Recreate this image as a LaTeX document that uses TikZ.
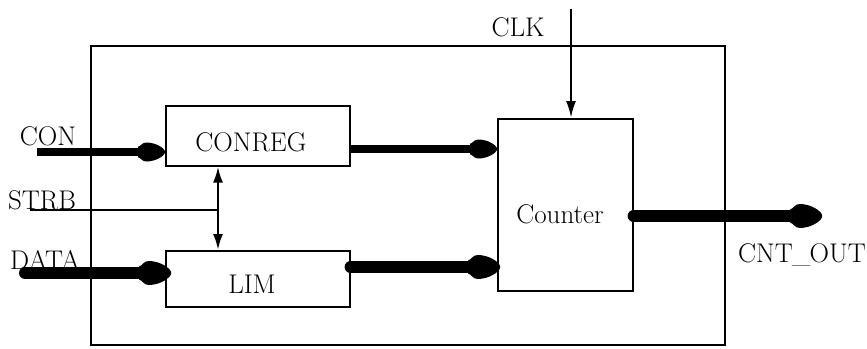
\documentclass[tikz,border=0pt]{standalone}
\usetikzlibrary{arrows.meta}
% blunt bullet-shaped head for the wide bus lines
\pgfdeclarearrow{
  name=Bullet,
  parameters={\the\pgfarrowlength,\the\pgfarrowwidth},
  setup code={
    \pgfarrowssettipend{0pt}
    \pgfarrowssetlineend{-0.5\pgfarrowlength}
    \pgfarrowssetbackend{-\pgfarrowlength}
    \pgfarrowssavethe\pgfarrowlength
    \pgfarrowssavethe\pgfarrowwidth
    \pgfarrowsupperhullpoint{0pt}{0pt}
    \pgfarrowsupperhullpoint{-\pgfarrowlength}{0.5\pgfarrowwidth}
  },
  drawing code={
    \pgfpathmoveto{\pgfpoint{-\pgfarrowlength}{0.27\pgfarrowwidth}}
    \pgfpathcurveto{\pgfpoint{-0.9\pgfarrowlength}{0.3\pgfarrowwidth}}{\pgfpoint{-0.85\pgfarrowlength}{0.5\pgfarrowwidth}}{\pgfpoint{-0.7\pgfarrowlength}{0.5\pgfarrowwidth}}
    \pgfpathcurveto{\pgfpoint{-0.35\pgfarrowlength}{0.5\pgfarrowwidth}}{\pgfpoint{-0.04\pgfarrowlength}{0.22\pgfarrowwidth}}{\pgfpoint{0pt}{0.05\pgfarrowwidth}}
    \pgfpathlineto{\pgfpoint{0pt}{-0.05\pgfarrowwidth}}
    \pgfpathcurveto{\pgfpoint{-0.04\pgfarrowlength}{-0.22\pgfarrowwidth}}{\pgfpoint{-0.35\pgfarrowlength}{-0.5\pgfarrowwidth}}{\pgfpoint{-0.7\pgfarrowlength}{-0.5\pgfarrowwidth}}
    \pgfpathcurveto{\pgfpoint{-0.85\pgfarrowlength}{-0.5\pgfarrowwidth}}{\pgfpoint{-0.9\pgfarrowlength}{-0.3\pgfarrowwidth}}{\pgfpoint{-\pgfarrowlength}{-0.27\pgfarrowwidth}}
    \pgfpathclose
    \pgfusepathqfill
  },
  defaults={length=30pt,width=22pt}
}
\begin{document}
\begin{tikzpicture}[x=1pt,y=-1pt,
  lbl/.style={inner sep=0pt,font=\fontsize{27}{31}\selectfont},
  blk/.style={draw,line width=1.6pt,inner sep=0pt,anchor=north west},
  thin bus/.style={line width=8pt,-{Bullet[length=27pt,width=19pt]}},
  fat bus/.style={line width=12pt,line cap=round,-{Bullet[length=32pt,width=24pt]}},
  sig/.style={line width=2.4pt}]
\useasboundingbox (0,0) rectangle (867,348);
% enclosing module outline
\draw[line width=2.6pt] (91,46) rectangle (725,345);
% inner blocks
\node[blk,minimum width=184pt,minimum height=60pt] (conreg) at (165,105) {};
\node[blk,minimum width=184pt,minimum height=56pt] (lim) at (165,250) {};
\node[blk,minimum width=135pt,minimum height=172pt] (cnt) at (497,118) {};
\node[lbl] (tconreg) at (251,142) {CONREG};
\node[lbl] (tlim) at (252,284) {LIM};
\node[lbl] (tcnt) at (560,214) {Counter};
% external signal labels
\node[lbl] (tcon) at (48,136) {CON};
\node[lbl] (tstrb) at (42,200) {STRB};
\node[lbl] (tdata) at (45,260) {DATA};
\node[lbl] (tclk) at (518,27) {CLK};
\node[lbl] (tout) at (802,255) {CNT\kern-1pt\_\kern-1pt OUT};
% free line ends
\coordinate (conin) at (37,152);
\coordinate (strbin) at (30,210);
\coordinate (datain) at (25,273);
\coordinate (clkin) at (571,9);
\coordinate (outend) at (822,216);
\coordinate (strbj) at (218,210);
% connectors
\draw[thin bus] (conin) -- (conin -| conreg.west);
\draw[fat bus] (datain) -- ([xshift=6pt]datain -| lim.west);
\draw[sig] (strbin) -- (strbj);
\draw[sig,{Latex[length=16pt,width=10pt]}-{Latex[length=16pt,width=10pt]}]
  (conreg.south -| strbj) -- (lim.north -| strbj);
\draw[thin bus] (conreg.east |- 0,149) -- (cnt.west |- 0,149);
\draw[fat bus] (lim.east |- 0,267) -- ([xshift=3pt]cnt.west |- 0,267);
\draw[sig,-{Latex[length=17pt,width=10pt]}] (clkin) -- (clkin |- cnt.north);
\draw[fat bus] (cnt.east |- outend) -- (outend);
\end{tikzpicture}
\end{document}
